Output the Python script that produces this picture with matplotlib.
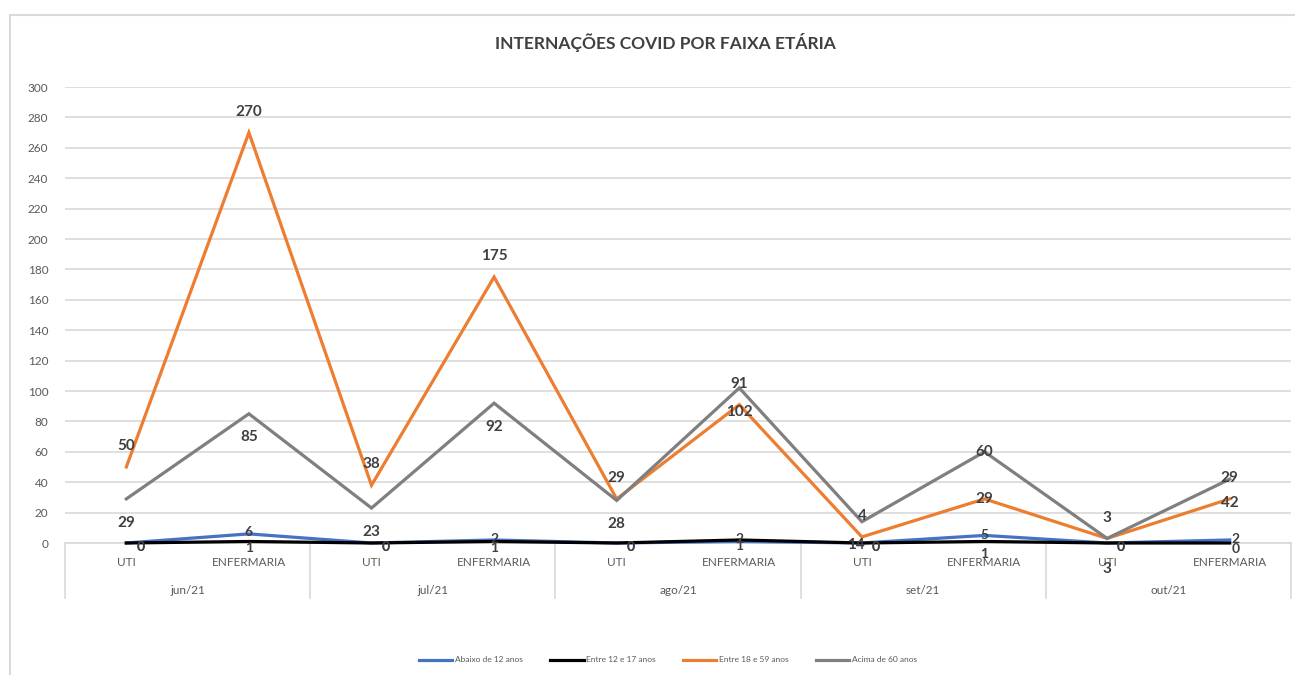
import matplotlib
matplotlib.use("Agg")
from matplotlib import pyplot as plt
from matplotlib.patches import Rectangle

plt.rcParams['font.family'] = ['Liberation Sans Narrow', 'Lato', 'DejaVu Sans']

# categories
months = ["jun/21", "jul/21", "ago/21", "set/21", "out/21"]
kinds = ["UTI", "ENFERMARIA"]

# line values (as drawn)
abaixo_12 = [0, 6, 0, 2, 0, 1, 0, 5, 0, 2]
entre_12_17 = [0, 1, 0, 1, 0, 2, 0, 1, 0, 0]
entre_18_59 = [50, 270, 38, 175, 29, 91, 4, 29, 3, 29]
acima_60 = [29, 85, 23, 92, 28, 102, 14, 60, 3, 42]

# data label texts (as printed on the chart)
lbl_abaixo_12 = ["0", "6", "0", "2", "0", "1", "0", "5", "0", "2"]
lbl_entre_12_17 = ["0", "1", "0", "1", "0", "2", "0", "1", "0", "0"]
lbl_entre_18_59 = ["50", "270", "38", "175", "29", "91", "4", "29", "3", "29"]
lbl_acima_60 = ["29", "85", "23", "92", "28", "102", "14", "60", "3", "42"]

series = [
    ("Abaixo de 12 anos", abaixo_12, lbl_abaixo_12, "#4472C4", 10),
    ("Entre 12 e 17 anos", entre_12_17, lbl_entre_12_17, "#000000", 10),
    ("Entre 18 e 59 anos", entre_18_59, lbl_entre_18_59, "#ED7D31", 11),
    ("Acima de 60 anos", acima_60, lbl_acima_60, "#7F7F7F", 11),
]

# label offsets in points (dx, dy) per series
offsets = [
    [(10, -3), (0, 1), (10, -3), (0, 1), (10, -3), (0, -3), (10, -3), (0, 0), (10, -3), (4, 1)],
    [(10, -3), (0, -5), (10, -3), (0, -5), (10, -3), (0, 1), (10, -3), (0, -9), (10, -3), (4, -4)],
    [(0, 15), (0, 15), (0, 15), (0, 15), (0, 15), (0, 15), (0, 15), (0, 0), (0, 15), (0, 15)],
    [(0, -17), (0, -17), (0, -17), (0, -17), (0, -17), (0, -17), (-4, -17), (0, 0), (0, -22), (0, -17)],
]

fig = plt.figure(figsize=(12.95, 6.75), dpi=100)
fig.patches.append(Rectangle((10 / 1295, -0.1), 1.2, (675 - 15) / 675 + 0.1,
                             transform=fig.transFigure, fill=False,
                             edgecolor="#d9d9d9", linewidth=1.5))

ax = fig.add_axes([65 / 1295, 132 / 675, (1291 - 65) / 1295, 456 / 675])
x = list(range(len(abaixo_12)))

for name, vals, lbls, col, fs in series:
    ax.plot(x, vals, color=col, linewidth=2.3, label=name, solid_joinstyle="miter", clip_on=False, zorder=3)

for (name, vals, lbls, col, fs), offs in zip(series, offsets):
    for xi, v, t, (dx, dy) in zip(x, vals, lbls, offs):
        ax.annotate(t, (xi, v), xytext=(dx, dy), textcoords="offset points",
                    ha="center", va="center", fontsize=fs, fontweight="bold",
                    color="#404040", zorder=5)

ax.set_xlim(-0.5, 9.5)
ax.set_ylim(0, 300)
ax.set_yticks(range(0, 301, 20))
ax.tick_params(axis="y", length=0, labelsize=8.5, labelcolor="#595959", pad=12)
ax.set_xticks([])
ax.grid(axis="y", color="#d9d9d9", linewidth=1.2)
ax.set_axisbelow(True)
for s in ax.spines.values():
    s.set_visible(False)

# multi-level category axis
tr = ax.get_xaxis_transform()
ax.plot([-0.5, 9.5], [0, 0], color="#d9d9d9", linewidth=1.2, transform=tr, clip_on=False, zorder=1)
for xb in [-0.5, 1.5, 3.5, 5.5, 7.5, 9.5]:
    ax.plot([xb, xb], [0, -0.12], color="#d9d9d9", linewidth=1.2, transform=tr, clip_on=False)
for i in x:
    ax.text(i, -0.043, kinds[i % 2], transform=tr, ha="center", va="center",
            fontsize=8.5, color="#595959")
for j, m in enumerate(months):
    ax.text(2 * j + 0.5, -0.105, m, transform=tr, ha="center", va="center",
            fontsize=8.5, color="#595959")

fig.text(665 / 1295, 1 - 43 / 675, "INTERNAÇÕES COVID POR FAIXA ETÁRIA",
         ha="center", va="center", fontsize=12.5, fontweight="bold", color="#404040")

fig.legend(loc="center", bbox_to_anchor=(668 / 1295, 1 - 660 / 675), ncol=4,
           frameon=False, fontsize=6, handlelength=4, columnspacing=3.3,
           handletextpad=0.3, labelcolor="#595959")

plt.savefig("out.png", dpi=100)
